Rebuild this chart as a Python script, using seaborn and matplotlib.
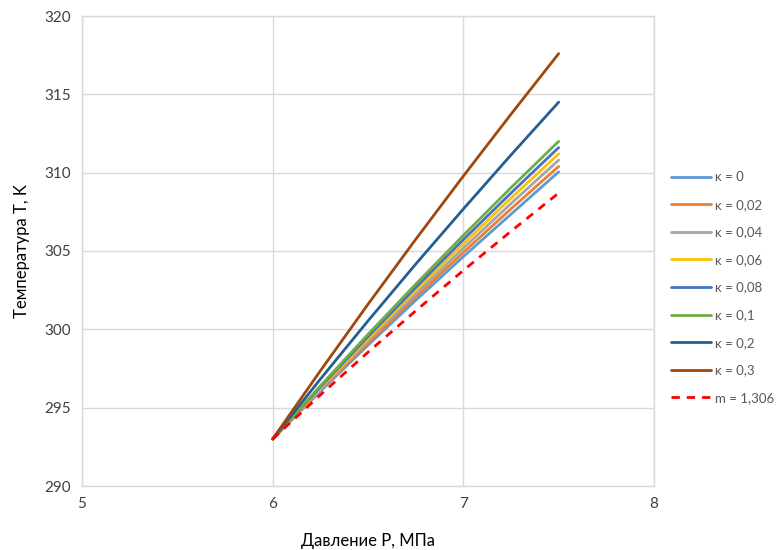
import matplotlib
matplotlib.use("Agg")
import matplotlib.pyplot as plt
import seaborn as sns
import pandas as pd
from matplotlib.lines import Line2D

# Pressure points, MPa
pressure = [6.0, 6.25, 6.5, 6.75, 7.0, 7.25, 7.5]

# Temperature, K, for each series
t_k000 = [293.0, 296.04, 298.99, 301.85, 304.64, 307.35, 310.05]
t_k002 = [293.0, 296.11, 299.12, 302.06, 304.91, 307.69, 310.40]
t_k004 = [293.0, 296.18, 299.27, 302.26, 305.18, 308.03, 310.80]
t_k006 = [293.0, 296.25, 299.40, 302.47, 305.46, 308.37, 311.20]
t_k008 = [293.0, 296.32, 299.54, 302.67, 305.73, 308.70, 311.60]
t_k010 = [293.0, 296.39, 299.68, 302.88, 306.00, 309.04, 312.00]
t_k020 = [293.0, 296.82, 300.54, 304.16, 307.68, 311.13, 314.50]
t_k030 = [293.0, 297.35, 301.60, 305.74, 309.78, 313.73, 317.60]
t_m1306 = [293.0, 295.81, 298.54, 301.18, 303.76, 306.26, 308.70]

labels = ["κ = 0", "κ = 0,02", "κ = 0,04", "κ = 0,06", "κ = 0,08",
          "κ = 0,1", "κ = 0,2", "κ = 0,3", "m = 1,306"]
series = [t_k000, t_k002, t_k004, t_k006, t_k008, t_k010, t_k020, t_k030, t_m1306]
colors = ["#5B9BD5", "#ED7D31", "#A5A5A5", "#FFC000", "#4472C4",
          "#70AD47", "#255E91", "#9E480E", "#FF0000"]

x_ticks = [5, 6, 7, 8]
y_ticks = [290, 295, 300, 305, 310, 315, 320]

rows = []
for lab, vals in zip(labels, series):
    for p, t in zip(pressure, vals):
        rows.append({"P": p, "T": t, "series": lab})
df = pd.DataFrame(rows)

sns.set_theme(style="white")
plt.rcParams["font.family"] = ["Lato", "DejaVu Sans"]

fig = plt.figure(figsize=(7.79, 5.50), dpi=100)
ax = fig.add_axes([82 / 779, 1 - 486 / 550, (654 - 82) / 779, (486 - 16) / 550])

palette = dict(zip(labels, colors))
dashes = {lab: "" for lab in labels}
dashes["m = 1,306"] = (3, 2.5)
sns.lineplot(data=df, x="P", y="T", hue="series", style="series",
             palette=palette, dashes=dashes, hue_order=labels,
             style_order=labels, linewidth=2.0, legend=False, ax=ax,
             zorder=3)

ax.set_xlim(5, 8)
ax.set_ylim(290, 320)
ax.set_xticks(x_ticks)
ax.set_yticks(y_ticks)
ax.grid(True, color="#D9D9D9", linewidth=1.0)
ax.set_axisbelow(True)
for s in ax.spines.values():
    s.set_visible(True)
    s.set_color("#D9D9D9")
    s.set_linewidth(1.0)
ax.tick_params(axis="both", length=0, labelsize=11, colors="#404040", pad=8)
ax.set_xlabel("Давление P, МПа", fontsize=12, color="#000000", labelpad=16)
ax.set_ylabel("Температура T, K", fontsize=12, color="#000000", labelpad=10)

handles = []
for lab, col in zip(labels, colors):
    ls = (0, (3, 2.5)) if lab.startswith("m") else "-"
    handles.append(Line2D([0], [0], color=col, lw=2.0, linestyle=ls))
leg = fig.legend(handles, labels, loc="upper left",
                 bbox_to_anchor=(666 / 779, 1 - 166 / 550),
                 frameon=False, fontsize=9.5, handlelength=3.0,
                 handletextpad=0.35, labelspacing=1.18, borderaxespad=0)
for t in leg.get_texts():
    t.set_color("#595959")

fig.savefig("out.png", dpi=100)
